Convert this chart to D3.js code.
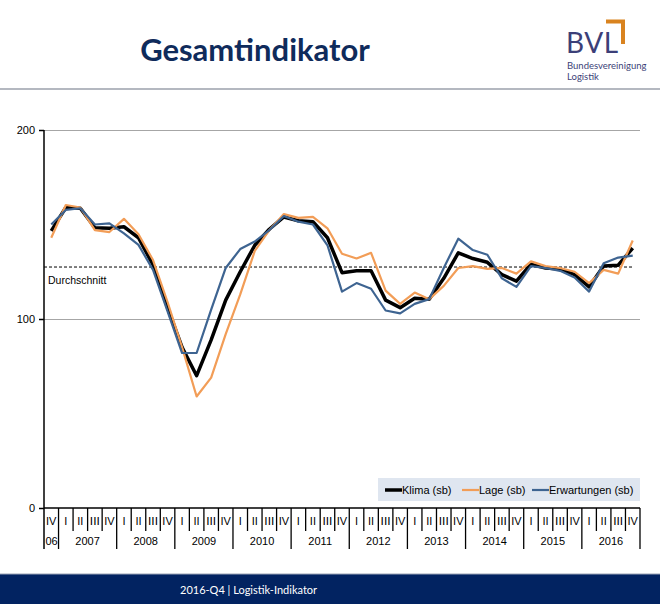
<!DOCTYPE html>
<html><head><meta charset="utf-8">
<script src="https://cdn.jsdelivr.net/npm/d3@7"></script>
<style>body{margin:0;background:#fff;}svg{display:block;}</style>
</head><body>
<svg id="c" width="660" height="604"></svg>
<script>
const categories = ["2006 IV",
 "2007 I","2007 II","2007 III","2007 IV","2008 I","2008 II","2008 III","2008 IV",
 "2009 I","2009 II","2009 III","2009 IV","2010 I","2010 II","2010 III","2010 IV",
 "2011 I","2011 II","2011 III","2011 IV","2012 I","2012 II","2012 III","2012 IV",
 "2013 I","2013 II","2013 III","2013 IV","2014 I","2014 II","2014 III","2014 IV",
 "2015 I","2015 II","2015 III","2015 IV","2016 I","2016 II","2016 III","2016 IV"];
const quarterLabels = ["IV","I","II","III","IV","I","II","III","IV","I","II","III","IV","I","II","III","IV",
 "I","II","III","IV","I","II","III","IV","I","II","III","IV","I","II","III","IV","I","II","III","IV","I","II","III","IV"];
const yearLabels = ["06","2007","2008","2009","2010","2011","2012","2013","2014","2015","2016"];
const yearSpans = [1,4,4,4,4,4,4,4,4,4,4];
const klima = [146.6,159,158.6,148.3,148,148.8,143,128.6,106,85,70,89,110,125,139,147.5,154,152,151.5,143,124.5,125.5,125.5,110,106,111,110.5,121.5,135,132,130,123.5,120,129,127,126.5,123.5,117,128,128.5,137.5];
const lage = [143,160.3,159,147,146,153,144.8,131.2,109,85,59,69,92,113,136,147,155.5,153.5,154,148,134.5,132,135,115,108,114,110.5,117.5,127,128,126.5,127,124,130.5,128,127,125,119,126,124,141.5];
const erwartungen = [150,157.7,158.6,150,150.6,145.3,139.2,126,104,82,82,105,127,137,141,147,154.5,151.5,150,139,114.5,119,116,104.5,103,108,110.5,127,142.5,136.5,134,121.5,117,128,127,125.5,122,114.5,129.5,132.5,133.5];
const seriesNames = ["Klima (sb)","Lage (sb)","Erwartungen (sb)"];
const seriesColors = ["#000000","#f29d57","#3e6491"];
const yTicks = [0,100,200];
const average = 127.5;
const averageLabel = "Durchschnitt";

const svg = d3.select("#c");
const L = 44, R = 640, T = 130, B = 508;
const x = d3.scaleBand().domain(d3.range(categories.length)).range([L, R]).padding(0);
const y = d3.scaleLinear().domain([0, 200]).range([B, T]);
const cx = i => x(i) + x.bandwidth() / 2;

// Header
svg.append("text").attr("x", 255).attr("y", 61).attr("text-anchor", "middle")
  .attr("font-family", "Lato, 'Open Sans', sans-serif").attr("font-weight", "bold")
  .attr("font-size", 31).attr("fill", "#0f2b5b").text("Gesamtindikator");
svg.append("text").attr("x", 566).attr("y", 53).attr("font-family", "Lato, 'Open Sans', sans-serif")
  .attr("font-size", 28).attr("fill", "#3c3f78").attr("letter-spacing", 0.5).text("BVL");
svg.append("path").attr("d", "M606,21.5 H623 V44").attr("fill", "none").attr("stroke", "#d9831f").attr("stroke-width", 4);
svg.append("text").attr("x", 567).attr("y", 69).attr("font-family", "Lato, 'Open Sans', sans-serif")
  .attr("font-size", 9.5).attr("fill", "#3c3f78").text("Bundesvereinigung");
svg.append("text").attr("x", 567).attr("y", 80).attr("font-family", "Lato, 'Open Sans', sans-serif")
  .attr("font-size", 9.5).attr("fill", "#3c3f78").text("Logistik");
svg.append("line").attr("x1", 0).attr("x2", 660).attr("y1", 89).attr("y2", 89).attr("stroke", "#b4b8c0").attr("stroke-width", 2);

// Gridlines
const grid = svg.append("g").attr("transform", `translate(${L},0)`)
  .call(d3.axisLeft(y).tickValues([100, 200]).tickSize(-(R - L)).tickFormat(""));
grid.select(".domain").remove();
grid.selectAll("line").attr("stroke", "#a6a6a6").attr("stroke-width", 1);

// Y axis
const ya = svg.append("g").attr("transform", `translate(${L},0)`)
  .call(d3.axisLeft(y).tickValues(yTicks).tickSize(5).tickPadding(4));
ya.select(".domain").remove();
ya.selectAll("line").attr("stroke", "#000").attr("stroke-width", 1.5);
ya.selectAll("text").attr("font-family", "'Liberation Sans', Arial, sans-serif").attr("font-size", 11).attr("fill", "#000");
svg.append("line").attr("x1", L).attr("x2", L).attr("y1", T).attr("y2", 549).attr("stroke", "#000").attr("stroke-width", 1.5);

// X axis line
svg.append("line").attr("x1", L).attr("x2", R).attr("y1", B).attr("y2", B).attr("stroke", "#000").attr("stroke-width", 1.5);

// quarter ticks and year separators
const xa = svg.append("g");
let idx = 0; const yearStarts = new Set();
yearSpans.forEach(s => { yearStarts.add(idx); idx += s; });
yearStarts.add(categories.length);
for (let i = 1; i <= categories.length; i++) {
  const px = i < categories.length ? x(i) : R;
  const isYear = yearStarts.has(i);
  xa.append("line").attr("x1", px).attr("x2", px).attr("y1", B).attr("y2", isYear ? 549 : 531)
    .attr("stroke", "#000").attr("stroke-width", 1.3);
}
xa.selectAll("text.q").data(quarterLabels).enter().append("text").attr("class", "q")
  .attr("x", (d, i) => cx(i)).attr("y", 525).attr("text-anchor", "middle")
  .attr("font-family", "'Liberation Sans', Arial, sans-serif").attr("font-size", 11)
  .attr("textLength", d => d.length > 2 ? 10 : null).attr("lengthAdjust", "spacingAndGlyphs")
  .text(d => d);
idx = 0;
yearLabels.forEach((lab, k) => {
  const s = yearSpans[k];
  const start = x(idx), end = (idx + s < categories.length) ? x(idx + s) : R;
  xa.append("text").attr("x", k === 0 ? start + 1.5 : (start + end) / 2).attr("y", 545)
    .attr("text-anchor", k === 0 ? "start" : "middle")
    .attr("font-family", "'Liberation Sans', Arial, sans-serif").attr("font-size", 11).text(lab);
  idx += s;
});

// Average
svg.append("line").attr("x1", L).attr("x2", cx(categories.length - 1)).attr("y1", y(average)).attr("y2", y(average))
  .attr("stroke", "#000").attr("stroke-width", 1).attr("stroke-dasharray", "3,2");
svg.append("text").attr("x", 48).attr("y", y(average) + 17).attr("font-family", "'Liberation Sans', Arial, sans-serif")
  .attr("font-size", 10.5).text(averageLabel);

// Lines
const line = d3.line().x((d, i) => cx(i)).y(d => y(d));
const series = [klima, lage, erwartungen];
const widths = [3.5, 2.2, 2.2];
series.forEach((s, k) => {
  svg.append("path").datum(s).attr("d", line).attr("fill", "none")
    .attr("stroke", seriesColors[k]).attr("stroke-width", widths[k]).attr("stroke-linejoin", "round");
});

// Legend
const lg = svg.append("g");
lg.append("rect").attr("x", 378).attr("y", 478).attr("width", 262).attr("height", 23).attr("fill", "#dfe6f0");
const legX = [385, 462, 532];
seriesNames.forEach((n, k) => {
  lg.append("line").attr("x1", legX[k]).attr("x2", legX[k] + 17).attr("y1", 490).attr("y2", 490)
    .attr("stroke", seriesColors[k]).attr("stroke-width", widths[k]);
  lg.append("text").attr("x", legX[k] + 17).attr("y", 494).attr("font-family", "'Liberation Sans', Arial, sans-serif")
    .attr("font-size", 11).text(n);
});

// Footer
svg.append("rect").attr("x", 0).attr("y", 574).attr("width", 660).attr("height", 30).attr("fill", "#022361");
svg.append("line").attr("x1", 0).attr("x2", 660).attr("y1", 574).attr("y2", 574).attr("stroke", "#9aa3b5").attr("stroke-width", 1);
svg.append("text").attr("x", 180).attr("y", 594).attr("font-family", "Lato, 'Open Sans', sans-serif")
  .attr("font-size", 11).attr("fill", "#fff").text("2016-Q4 | Logistik-Indikator");
</script>
</body></html>
